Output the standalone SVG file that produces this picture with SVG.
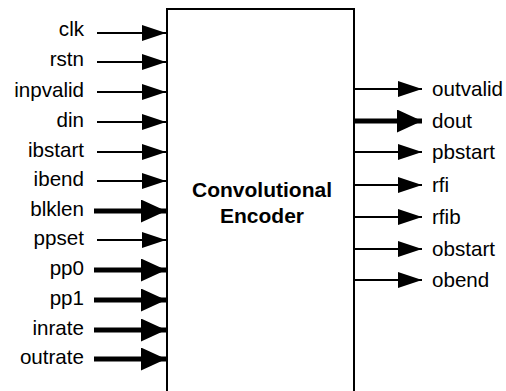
<svg xmlns="http://www.w3.org/2000/svg" width="506" height="391" viewBox="0 0 506 391">
<style>
text{font-family:"Liberation Sans",Arial,Helvetica,sans-serif;font-size:20.6px;fill:#000}
.in{text-anchor:end}
.out{text-anchor:start}
.title{font-weight:bold;text-anchor:middle;font-size:21px}
.box{fill:#fff;stroke:#000;stroke-width:2}
.thin{stroke:#000;stroke-width:2;fill:none}
.thick{stroke:#000;stroke-width:5;fill:none}
</style>
<defs>
<marker id="ah" markerUnits="userSpaceOnUse" markerWidth="24" markerHeight="16" refX="24" refY="8" orient="auto" viewBox="0 0 24 16"><path d="M0,0 L24,8 L0,16 z" fill="#000"/></marker>
<marker id="ahb" markerUnits="userSpaceOnUse" markerWidth="25" markerHeight="23" refX="25" refY="11.5" orient="auto" viewBox="0 0 25 23"><path d="M0,0 L25,11.5 L0,23 z" fill="#000"/></marker>
</defs>
<g id="encoder">
<rect class="box" x="167" y="9" width="187" height="392"/>
<text class="title" x="262" y="197">Convolutional</text>
<text class="title" x="262" y="223">Encoder</text>
</g>
<g id="connectors">
<line class="thin" x1="97" y1="33" x2="166" y2="33" marker-end="url(#ah)"/>
<line class="thin" x1="97" y1="62" x2="166" y2="62" marker-end="url(#ah)"/>
<line class="thin" x1="97" y1="92" x2="166" y2="92" marker-end="url(#ah)"/>
<line class="thin" x1="97" y1="122" x2="166" y2="122" marker-end="url(#ah)"/>
<line class="thin" x1="97" y1="152" x2="166" y2="152" marker-end="url(#ah)"/>
<line class="thin" x1="97" y1="181" x2="166" y2="181" marker-end="url(#ah)"/>
<line class="thick" x1="94" y1="211" x2="166" y2="211" marker-end="url(#ahb)"/>
<line class="thin" x1="97" y1="240" x2="166" y2="240" marker-end="url(#ah)"/>
<line class="thick" x1="94" y1="270" x2="166" y2="270" marker-end="url(#ahb)"/>
<line class="thick" x1="94" y1="300" x2="166" y2="300" marker-end="url(#ahb)"/>
<line class="thick" x1="94" y1="330" x2="166" y2="330" marker-end="url(#ahb)"/>
<line class="thick" x1="94" y1="359" x2="166" y2="359" marker-end="url(#ahb)"/>
<line class="thin" x1="355" y1="89" x2="422" y2="89" marker-end="url(#ah)"/>
<line class="thick" x1="355" y1="121" x2="422" y2="121" marker-end="url(#ahb)"/>
<line class="thin" x1="355" y1="152" x2="422" y2="152" marker-end="url(#ah)"/>
<line class="thin" x1="355" y1="185" x2="422" y2="185" marker-end="url(#ah)"/>
<line class="thin" x1="355" y1="217" x2="422" y2="217" marker-end="url(#ah)"/>
<line class="thin" x1="355" y1="249" x2="422" y2="249" marker-end="url(#ah)"/>
<line class="thin" x1="355" y1="280" x2="422" y2="280" marker-end="url(#ah)"/>
</g>
<g id="port-clk"><text class="in" x="84" y="36">clk</text></g>
<g id="port-rstn"><text class="in" x="84" y="66">rstn</text></g>
<g id="port-inpvalid"><text class="in" x="84" y="97">inpvalid</text></g>
<g id="port-din"><text class="in" x="84" y="127">din</text></g>
<g id="port-ibstart"><text class="in" x="84" y="157">ibstart</text></g>
<g id="port-ibend"><text class="in" x="84" y="186">ibend</text></g>
<g id="port-blklen"><text class="in" x="84" y="216">blklen</text></g>
<g id="port-ppset"><text class="in" x="84" y="245">ppset</text></g>
<g id="port-pp0"><text class="in" x="84" y="275">pp0</text></g>
<g id="port-pp1"><text class="in" x="84" y="305">pp1</text></g>
<g id="port-inrate"><text class="in" x="84" y="335">inrate</text></g>
<g id="port-outrate"><text class="in" x="84" y="364">outrate</text></g>
<g id="port-outvalid"><text class="out" x="432" y="96">outvalid</text></g>
<g id="port-dout"><text class="out" x="432" y="128">dout</text></g>
<g id="port-pbstart"><text class="out" x="432" y="159">pbstart</text></g>
<g id="port-rfi"><text class="out" x="432" y="192">rfi</text></g>
<g id="port-rfib"><text class="out" x="432" y="224">rfib</text></g>
<g id="port-obstart"><text class="out" x="432" y="256">obstart</text></g>
<g id="port-obend"><text class="out" x="432" y="287">obend</text></g>
</svg>
